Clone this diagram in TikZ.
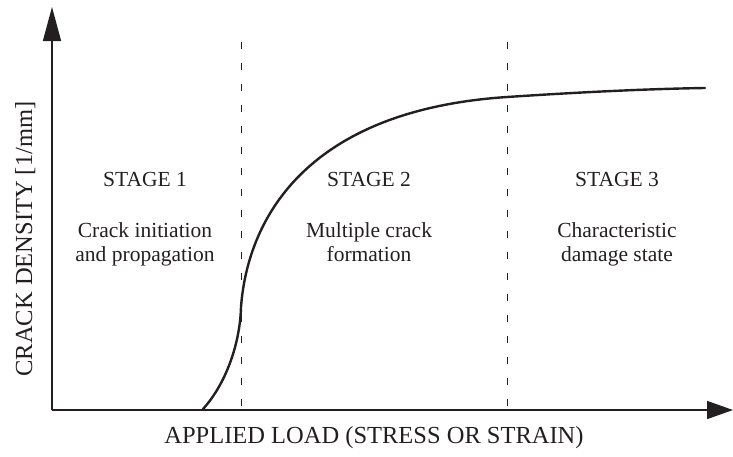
\documentclass[tikz,border=0pt]{standalone}
\usepackage{fontspec}
\setmainfont{Liberation Serif}
\usetikzlibrary{arrows.meta}
\definecolor{ink}{HTML}{231F20}
\tikzset{
  axisline/.style={draw=ink, line width=1.5pt},
  divider/.style={draw=ink, line width=0.9pt, dash pattern=on 7pt off 14pt},
  curveline/.style={draw=ink, line width=2.4pt, line cap=round},
  stagetxt/.style={anchor=base, text=ink, font=\fontsize{21.5}{25}\selectfont, inner sep=0pt},
  axistxt/.style={anchor=base, text=ink, font=\fontsize{24.5}{28}\selectfont, inner sep=0pt}
}
\begin{document}
\begin{tikzpicture}[x=1pt,y=-1pt]
\useasboundingbox (0,0) rectangle (733,456);
\coordinate (o) at (52,410);
\coordinate (ytip) at (52,7);
\coordinate (xtip) at (733,410);
\coordinate (d1t) at (241.5,42);
\coordinate (d1b) at (241.5,410);
\coordinate (d2t) at (507.7,42);
\coordinate (d2b) at (507.7,410);
\coordinate (c0) at (203,409);
\coordinate (c1) at (241,307);
\coordinate (c2) at (507,97);
\coordinate (c3) at (705,88);
% dashed dividers
\draw[divider] (d1t) -- (d1b);
\draw[divider] (d2t) -- (d2b);
% axes
\draw[axisline, -{Triangle[length=34pt,width=18pt]}] (o) -- (ytip);
\draw[axisline, -{Triangle[length=26pt,width=18pt]}] (o) -- (xtip);
% curve
\draw[curveline] (c0) .. controls (225,385) and (240,345) .. (c1)
  .. controls (248,215) and (310,110) .. (c2)
  .. controls (567,93) and (640,89) .. (c3);
% texts
\node[stagetxt] (s1) at (145,186) {STAGE 1};
\node[stagetxt] (s1a) at (145,237) {Crack initiation};
\node[stagetxt] (s1b) at (145,261) {and propagation};
\node[stagetxt] (s2) at (369,186) {STAGE 2};
\node[stagetxt] (s2a) at (369,237) {Multiple crack};
\node[stagetxt] (s2b) at (369,261) {formation};
\node[stagetxt] (s3) at (617,186) {STAGE 3};
\node[stagetxt] (s3a) at (617,237) {Characteristic};
\node[stagetxt] (s3b) at (617,261) {damage state};
\node[axistxt] (xl) at (374,443) {APPLIED LOAD (STRESS OR STRAIN)};
\node[axistxt, rotate=90] (yl) at (32,239) {CRACK DENSITY [1/mm]};
\end{tikzpicture}
\end{document}
